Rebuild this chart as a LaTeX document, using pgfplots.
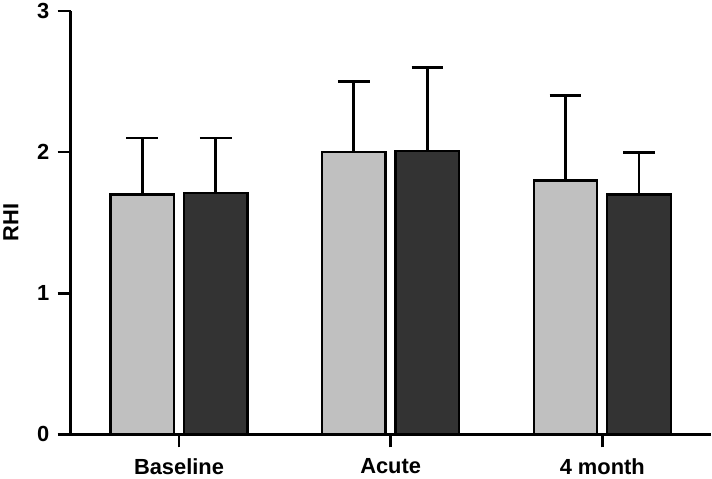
\documentclass[border=0pt]{standalone}
\usepackage{fontspec}
\setmainfont{Liberation Sans}
\usepackage{pgfplots}
\pgfplotsset{compat=1.18}
\definecolor{lightbar}{HTML}{C0C0C0}
\definecolor{darkbar}{HTML}{333333}
\begin{document}
\begin{tikzpicture}
\begin{axis}[
  scale only axis,
  width=644pt, height=426pt,
  ybar=10pt, bar width=64pt,
  xmin=-0.512, xmax=2.512,
  ymin=0, ymax=3,
  ytick={0,1,2,3},
  xtick={0,1,2},
  xticklabels={Baseline,Acute,4 month},
  axis lines=left,
  axis line style={-, line width=2.8pt},
  every tick/.append style={draw=black, line width=2.6pt},
  major tick length=13pt,
  tick align=outside,
  tick pos=left,
  /pgf/number format/assume math mode=true,
  ticklabel style={font=\fontsize{22}{25}\selectfont\bfseries},
  ylabel={RHI},
  ylabel style={font=\fontsize{22}{25}\selectfont\bfseries},
  ylabel shift=12pt,
  xticklabel style={yshift=-8pt},
  yticklabel style={xshift=-5pt},
  clip=false,
  error bars/y dir=plus,
  error bars/y explicit,
  error bars/error mark=-,
  error bars/error bar style={line width=2.8pt, black},
  error bars/error mark options={rotate=90, line width=2.8pt, mark size=16pt, black},
]
\addplot[fill=lightbar, draw=black, line width=2.4pt]
  coordinates {(0,1.70) +- (0,0.40) (1,2.00) +- (0,0.50) (2,1.80) +- (0,0.60)};
\addplot[fill=darkbar, draw=black, line width=2.4pt]
  coordinates {(0,1.71) +- (0,0.39) (1,2.01) +- (0,0.59) (2,1.70) +- (0,0.30)};
\end{axis}
\end{tikzpicture}
\end{document}
